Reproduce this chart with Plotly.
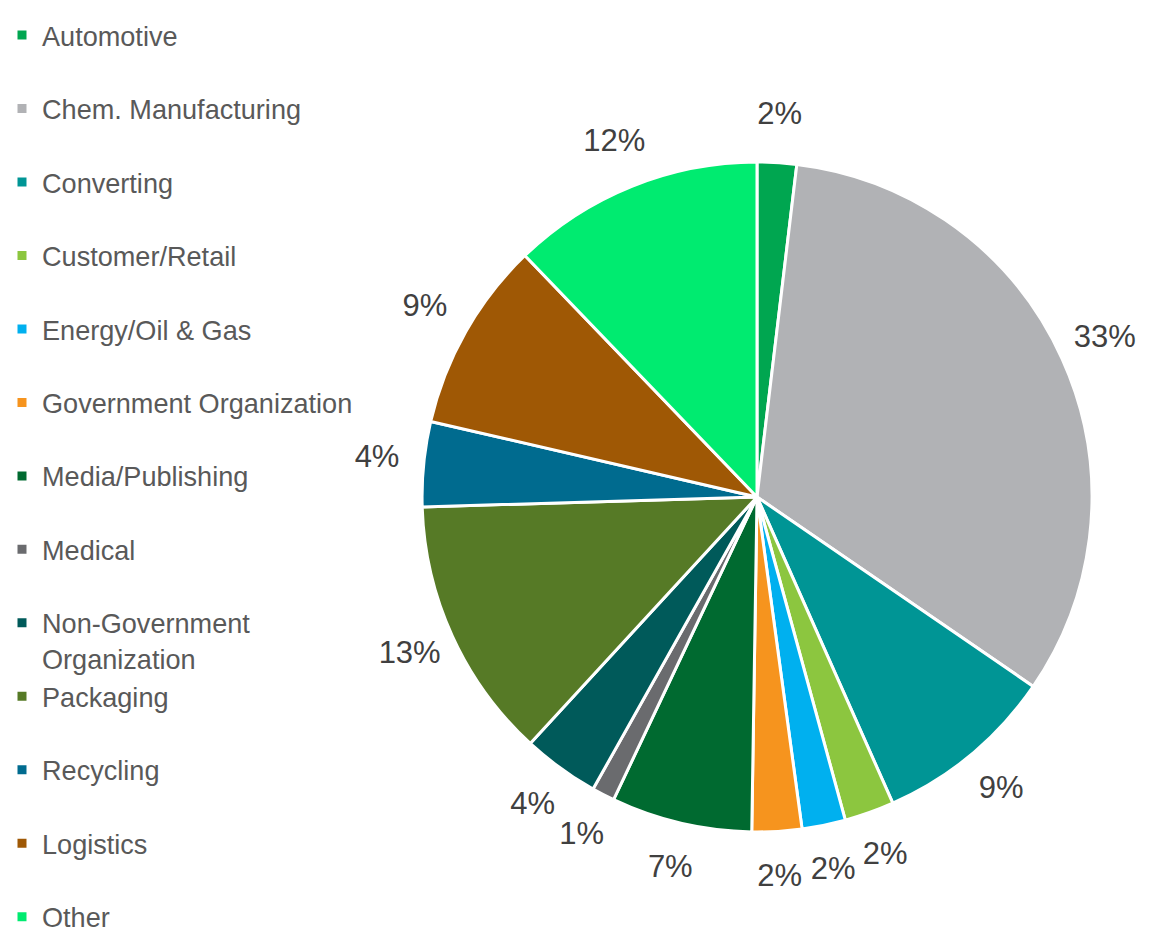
import plotly.graph_objects as go

categories = ["Automotive", "Chem. Manufacturing", "Converting", "Customer/Retail",
              "Energy/Oil & Gas", "Government Organization", "Media/Publishing", "Medical",
              "Non-Government Organization", "Packaging", "Recycling", "Logistics", "Other"]
shares = [1.9, 32.7, 8.8, 2.4, 2.1, 2.4, 6.8, 1.1, 3.7, 12.7, 4.1, 9.2, 12.2]
colors = ["#00A650", "#B1B2B5", "#009595", "#8CC63F", "#00B0EF", "#F6941E", "#006A30",
          "#6A6B6E", "#005A5A", "#567A26", "#006B8F", "#9F5805", "#00EB70"]

FONT = "Liberation Sans, Arial, sans-serif"

# legend labels: each entry occupies two text lines (long one wraps into its second line)
legend_labels = []
for i, c in enumerate(categories):
    if c == "Non-Government Organization":
        legend_labels.append("Non-Government<br>Organization")
    elif i == len(categories) - 1:
        legend_labels.append(c)
    else:
        legend_labels.append(c + "<br>\u00a0")

total = sum(shares)
mid_angles = []
cum = 0.0
for s in shares:
    mid_angles.append((cum + s / 2) / total * 360.0)
    cum += s
pct_text = [f"{round(s / total * 100)}%" for s in shares]

# pie placement (paper fractions)
cx, cy = 0.64905, 0.4759
hx, hy = 0.29025, 0.3591
dom_x = [cx - hx, cx + hx]
dom_y = [cy - hy, cy + hy]
# polar subplot concentric with the pie, radius 1 == pie edge, range up to 1.2
k = 1.2
pdom_x = [cx - hx * k, cx + hx * k]
pdom_y = [cy - hy * k, cy + hy * k]

fig = go.Figure()
fig.add_trace(go.Pie(
    labels=legend_labels,
    values=shares,
    sort=False,
    direction="clockwise",
    rotation=0,
    marker=dict(colors=colors, line=dict(color="white", width=3)),
    textinfo="none",
    domain=dict(x=dom_x, y=dom_y),
    hoverinfo="label+percent",
))

# percentage labels placed just outside each slice, through a polar subplot aligned with the pie
fig.add_trace(go.Scatterpolar(
    r=[1.14] * len(shares),
    theta=mid_angles,
    text=pct_text,
    mode="text",
    textposition="middle center",
    textfont=dict(family=FONT, size=31, color="#404040"),
    cliponaxis=False,
    showlegend=False,
    hoverinfo="skip",
))

fig.update_layout(
    width=1154, height=933,
    margin=dict(l=0, r=0, t=0, b=0, autoexpand=False),
    paper_bgcolor="white",
    plot_bgcolor="white",
    showlegend=True,
    polar=dict(
        domain=dict(x=pdom_x, y=pdom_y),
        bgcolor="rgba(0,0,0,0)",
        radialaxis=dict(visible=False, range=[0, k]),
        angularaxis=dict(visible=False, rotation=90, direction="clockwise"),
    ),
    legend=dict(
        x=-0.0052, y=0.0, xanchor="left", yanchor="bottom",
        valign="top",
        font=dict(family=FONT, size=27.1, color="#595959"),
        bgcolor="rgba(0,0,0,0)",
        tracegroupgap=0,
    ),
)

fig.write_html("out.html")
